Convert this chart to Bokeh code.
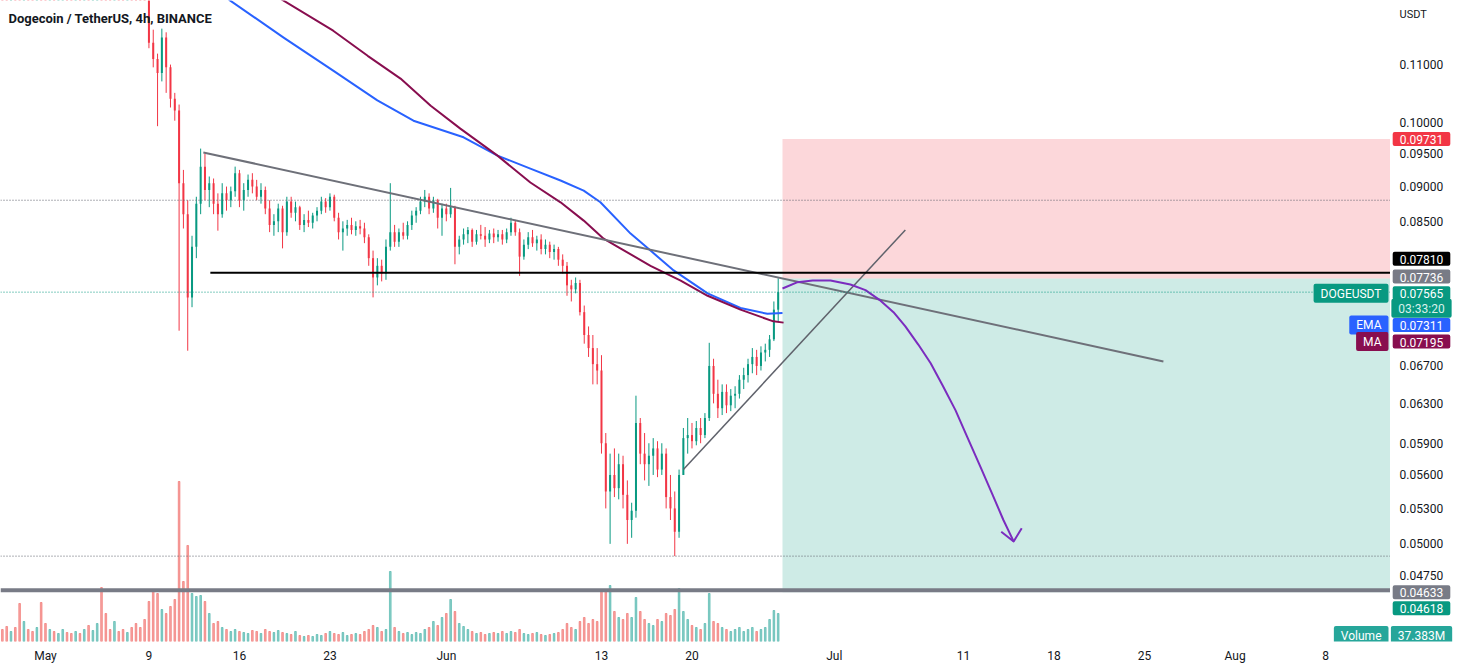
import pandas as pd
from bokeh.plotting import figure
from bokeh.layouts import row
from bokeh.models import Range1d, FixedTicker, Label, Span, ColumnDataSource, LinearScale
from bokeh.core.properties import value
from bokeh.embed import file_html
from bokeh.resources import INLINE

TITLE = "Dogecoin / TetherUS, 4h, BINANCE"
QUOTE = "USDT"
ORIGIN = pd.Timestamp("2022-05-01 00:00")
CANDLE_START = "2022-04-27 16:00"
CANDLE_STEP = "8h"
FIRST_OPEN = 0.1400

close = [
    0.1395, 0.1388, 0.1402, 0.1385, 0.1372, 0.1380, 0.1366, 0.1358, 0.1371, 0.1362,
    0.1349, 0.1356, 0.1344, 0.1351, 0.1368, 0.1355, 0.1340, 0.1347, 0.1333, 0.1338,
    0.1326, 0.1341, 0.1349, 0.1336, 0.1329, 0.1317, 0.1322, 0.1310, 0.1302, 0.1315,
    0.1296, 0.1288, 0.1280, 0.1275, 0.1140, 0.1110, 0.1085, 0.1150, 0.1095, 0.1040,
    0.1020, 0.0905, 0.0860, 0.0750, 0.0815, 0.0875, 0.0930, 0.0895, 0.0905, 0.0875,
    0.0860, 0.0890, 0.0880, 0.0893, 0.0920, 0.0880, 0.0895, 0.0910, 0.0900, 0.0885,
    0.0895, 0.0868, 0.0845, 0.0850, 0.0868, 0.0835, 0.0878, 0.0862, 0.0870, 0.0845,
    0.0852, 0.0848, 0.0858, 0.0865, 0.0878, 0.0870, 0.0885, 0.0855, 0.0835, 0.0840,
    0.0845, 0.0838, 0.0843, 0.0840, 0.0828, 0.0800, 0.0775, 0.0790, 0.0780, 0.0815,
    0.0835, 0.0822, 0.0835, 0.0830, 0.0845, 0.0858, 0.0865, 0.0878, 0.0885, 0.0868,
    0.0880, 0.0855, 0.0868, 0.0860, 0.0870, 0.0815, 0.0825, 0.0832, 0.0838, 0.0822,
    0.0832, 0.0830, 0.0825, 0.0833, 0.0828, 0.0832, 0.0825, 0.0835, 0.0848, 0.0835,
    0.0802, 0.0818, 0.0828, 0.0820, 0.0825, 0.0812, 0.0818, 0.0808, 0.0812, 0.0798,
    0.0790, 0.0765, 0.0760, 0.0768, 0.0732, 0.0705, 0.0690, 0.0672, 0.0665, 0.0590,
    0.0545, 0.0560, 0.0548, 0.0570, 0.0542, 0.0520, 0.0528, 0.0610, 0.0580, 0.0570,
    0.0578, 0.0585, 0.0565, 0.0580, 0.0540, 0.0530, 0.0510, 0.0560, 0.0595, 0.0598,
    0.0592, 0.0605, 0.0598, 0.0615, 0.0670, 0.0640, 0.0625, 0.0642, 0.0628, 0.0638,
    0.0640, 0.0655, 0.0660, 0.0672, 0.0680, 0.0670, 0.0685, 0.0688, 0.0700, 0.0735,
    0.07565,
]
high = [
    0.1418, 0.1410, 0.1420, 0.1412, 0.1398, 0.1392, 0.1388, 0.1375, 0.1385, 0.1390,
    0.1370, 0.1366, 0.1362, 0.1358, 0.1380, 0.1375, 0.1362, 0.1355, 0.1352, 0.1346,
    0.1344, 0.1350, 0.1362, 0.1372, 0.1345, 0.1335, 0.1330, 0.1328, 0.1318, 0.1322,
    0.1320, 0.1305, 0.1295, 0.1292, 0.1290, 0.1165, 0.1120, 0.1167, 0.1160, 0.1100,
    0.1050, 0.1030, 0.0925, 0.0880, 0.0830, 0.0885, 0.0958, 0.0950, 0.0915, 0.0912,
    0.0890, 0.0905, 0.0900, 0.0900, 0.0930, 0.0925, 0.0905, 0.0918, 0.0920, 0.0910,
    0.0905, 0.0900, 0.0880, 0.0860, 0.0875, 0.0872, 0.0885, 0.0885, 0.0878, 0.0872,
    0.0860, 0.0865, 0.0862, 0.0870, 0.0885, 0.0883, 0.0890, 0.0888, 0.0862, 0.0850,
    0.0852, 0.0855, 0.0850, 0.0852, 0.0848, 0.0832, 0.0810, 0.0800, 0.0798, 0.0825,
    0.0905, 0.0845, 0.0840, 0.0848, 0.0850, 0.0865, 0.0870, 0.0885, 0.0895, 0.0890,
    0.0885, 0.0882, 0.0875, 0.0875, 0.0898, 0.0872, 0.0830, 0.0840, 0.0842, 0.0840,
    0.0838, 0.0845, 0.0842, 0.0838, 0.0840, 0.0838, 0.0838, 0.0840, 0.0855, 0.0852,
    0.0840, 0.0825, 0.0835, 0.0838, 0.0830, 0.0832, 0.0825, 0.0822, 0.0818, 0.0815,
    0.0805, 0.0795, 0.0772, 0.0775, 0.0772, 0.0740, 0.0715, 0.0705, 0.0690, 0.0682,
    0.0600, 0.0580, 0.0585, 0.0580, 0.0578, 0.0555, 0.0535, 0.0638, 0.0615, 0.0600,
    0.0590, 0.0595, 0.0592, 0.0590, 0.0585, 0.0560, 0.0545, 0.0565, 0.0605, 0.0615,
    0.0610, 0.0612, 0.0615, 0.0620, 0.0696, 0.0678, 0.0655, 0.0650, 0.0650, 0.0645,
    0.0648, 0.0660, 0.0668, 0.0678, 0.0690, 0.0688, 0.0692, 0.0695, 0.0705, 0.0745,
    0.0774,
]
low = [
    0.1382, 0.1375, 0.1380, 0.1370, 0.1352, 0.1360, 0.1352, 0.1340, 0.1350, 0.1338,
    0.1335, 0.1340, 0.1332, 0.1336, 0.1345, 0.1348, 0.1330, 0.1332, 0.1325, 0.1322,
    0.1315, 0.1320, 0.1335, 0.1318, 0.1312, 0.1305, 0.1308, 0.1300, 0.1292, 0.1295,
    0.1285, 0.1272, 0.1262, 0.1250, 0.1130, 0.1095, 0.0994, 0.1070, 0.1050, 0.1025,
    0.1003, 0.0710, 0.0840, 0.0687, 0.0738, 0.0800, 0.0860, 0.0880, 0.0870, 0.0860,
    0.0837, 0.0855, 0.0865, 0.0870, 0.0885, 0.0870, 0.0865, 0.0885, 0.0890, 0.0880,
    0.0875, 0.0860, 0.0835, 0.0830, 0.0835, 0.0813, 0.0830, 0.0855, 0.0850, 0.0838,
    0.0835, 0.0842, 0.0840, 0.0850, 0.0860, 0.0862, 0.0865, 0.0850, 0.0825, 0.0810,
    0.0830, 0.0832, 0.0830, 0.0832, 0.0820, 0.0790, 0.0750, 0.0765, 0.0770, 0.0772,
    0.0810, 0.0815, 0.0815, 0.0825, 0.0825, 0.0838, 0.0848, 0.0860, 0.0870, 0.0860,
    0.0862, 0.0840, 0.0830, 0.0850, 0.0855, 0.0792, 0.0805, 0.0818, 0.0820, 0.0815,
    0.0818, 0.0825, 0.0815, 0.0820, 0.0820, 0.0822, 0.0818, 0.0820, 0.0830, 0.0830,
    0.0777, 0.0798, 0.0812, 0.0815, 0.0810, 0.0805, 0.0805, 0.0800, 0.0798, 0.0790,
    0.0780, 0.0752, 0.0745, 0.0755, 0.0728, 0.0695, 0.0680, 0.0650, 0.0650, 0.0580,
    0.0530, 0.0500, 0.0540, 0.0538, 0.0530, 0.0500, 0.0505, 0.0522, 0.0570, 0.0555,
    0.0550, 0.0560, 0.0558, 0.0560, 0.0530, 0.0520, 0.0490, 0.0505, 0.0560, 0.0580,
    0.0585, 0.0588, 0.0590, 0.0595, 0.0612, 0.0630, 0.0615, 0.0618, 0.0620, 0.0622,
    0.0625, 0.0635, 0.0645, 0.0652, 0.0662, 0.0660, 0.0665, 0.0675, 0.0680, 0.0698,
    0.0720,
]
volume_m = [
    12, 15, 10, 14, 38, 20, 12, 10, 14, 39,
    18, 12, 10, 8, 12, 9, 8, 10, 8, 12,
    16, 11, 18, 54, 28, 12, 20, 10, 12, 9,
    14, 18, 14, 22, 40, 50, 48, 32, 28, 35,
    42, 160, 60, 96, 48, 45, 46, 40, 28, 18,
    20, 14, 12, 10, 12, 10, 9, 8, 11, 10,
    8, 12, 10, 9, 11, 9, 8, 7, 10, 6,
    5, 6, 5, 7, 6, 8, 10, 8, 7, 9,
    6, 7, 8, 7, 10, 12, 16, 14, 10, 12,
    70, 14, 10, 8, 9, 7, 9, 8, 12, 14,
    20, 16, 24, 28, 42, 30, 18, 15, 12, 10,
    8, 9, 7, 8, 9, 8, 10, 8, 10, 9,
    12, 8, 7, 8, 9, 7, 6, 7, 8, 9,
    12, 18, 14, 12, 20, 24, 18, 22, 20, 52,
    50, 56, 30, 24, 22, 28, 24, 44, 30, 22,
    18, 16, 22, 20, 28, 26, 32, 53, 30, 22,
    16, 14, 12, 18, 48, 20, 18, 14, 12, 10,
    12, 14, 10, 12, 14, 10, 12, 14, 22, 31,
    28,
]

ema_time = ["2022-05-13 00:00", "2022-05-15 07:00", "2022-05-19 10:00", "2022-05-23 06:00",
            "2022-05-26 16:00", "2022-05-29 11:00", "2022-06-02 08:00", "2022-06-04 23:00",
            "2022-06-07 12:00", "2022-06-09 20:00", "2022-06-11 15:00", "2022-06-12 22:00",
            "2022-06-15 06:00", "2022-06-16 19:00", "2022-06-18 14:00", "2022-06-21 05:00",
            "2022-06-23 18:00", "2022-06-25 20:00", "2022-06-27 00:00"]
ema_value = [0.1273, 0.1222, 0.1150, 0.1089, 0.1037, 0.1003, 0.0976, 0.0947, 0.0927, 0.0909,
             0.0894, 0.0877, 0.0833, 0.0810, 0.0784, 0.0755, 0.0737, 0.0730, 0.07311]
ma_time = ["2022-05-16 20:00", "2022-05-19 10:00", "2022-05-23 06:00", "2022-05-25 22:00",
           "2022-05-28 11:00", "2022-05-30 19:00", "2022-06-02 02:00", "2022-06-04 23:00",
           "2022-06-07 12:00", "2022-06-09 20:00", "2022-06-11 15:00", "2022-06-13 04:00",
           "2022-06-14 11:00", "2022-06-16 19:00", "2022-06-19 03:00", "2022-06-21 05:00",
           "2022-06-23 18:00", "2022-06-26 07:00", "2022-06-27 02:00"]
ma_value = [0.1263, 0.1222, 0.1163, 0.1116, 0.1075, 0.1028, 0.0990, 0.0947, 0.0906, 0.0877,
            0.0851, 0.0826, 0.0813, 0.0790, 0.0771, 0.0752, 0.0735, 0.0721, 0.07195]

tick_dates = ["2022-05-01", "2022-05-09", "2022-05-16", "2022-05-23", "2022-06-01", "2022-06-13",
              "2022-06-20", "2022-07-01", "2022-07-11", "2022-07-18", "2022-07-25", "2022-08-01",
              "2022-08-08"]
tick_labels = ["May", "9", "16", "23", "Jun", "13", "20", "Jul", "11", "18", "25", "Aug", "8"]
price_ticks = [0.11, 0.10, 0.095, 0.09, 0.085, 0.067, 0.063, 0.059, 0.056, 0.053, 0.05, 0.0475]

view_start, view_end = "2022-04-27 12:30", "2022-08-13 00:30"
price_low, price_high = 0.04258, 0.12223

# drawings made on the chart
res_time = ["2022-05-13 05:00", "2022-07-26 11:00"]
res_price = [0.0952, 0.0675]
sup_time = ["2022-06-19 08:00", "2022-07-06 12:00"]
sup_price = [0.0565, 0.0838]
hline_start = "2022-05-13 18:00"
hline_price = 0.07810
base_price = 0.04633
dotted_levels = [0.0880, 0.0490]
pos_start, pos_end = "2022-06-27 00:00", "2022-08-25 00:00"
entry_price, stop_price, target_price = 0.07736, 0.09731, 0.04618
arrow_time = ["2022-06-27 00:00", "2022-06-28 04:00", "2022-06-29 08:00", "2022-06-30 17:00",
              "2022-07-02 06:00", "2022-07-03 10:00", "2022-07-04 14:00", "2022-07-05 14:00",
              "2022-07-06 12:00", "2022-07-07 12:00", "2022-07-08 11:00", "2022-07-09 09:00",
              "2022-07-10 09:00", "2022-07-11 07:00", "2022-07-12 07:00", "2022-07-13 06:00",
              "2022-07-14 02:00", "2022-07-14 21:00"]
arrow_price = [0.0761, 0.0769, 0.0771, 0.0771, 0.0766, 0.0759, 0.0746, 0.0732, 0.0715,
               0.0694, 0.0673, 0.0649, 0.0623, 0.0596, 0.0568, 0.0542, 0.0520, 0.0502]
head_time = ["2022-07-13 22:00", "2022-07-14 21:00", "2022-07-15 12:00"]
head_price = [0.0510, 0.0502, 0.0513]
last_price = 0.07565
countdown = "03:33:20"
ema_last, ma_last = 0.07311, 0.07195
last_volume = "37.383M"

UP, DOWN = "#089981", "#f23645"
FONT = "Roboto"


def day(t):
    return (pd.Timestamp(t) - ORIGIN) / pd.Timedelta(days=1)


times = pd.date_range(CANDLE_START, periods=len(close), freq=CANDLE_STEP)
xs = [day(t) for t in times]
opens = [FIRST_OPEN] + close[:-1]
is_up = [c >= o for o, c in zip(opens, close)]
src = ColumnDataSource(dict(
    x=xs, h=high, l=low,
    top=[max(o, c) for o, c in zip(opens, close)],
    bottom=[min(o, c) for o, c in zip(opens, close)],
    color=[UP if u else DOWN for u in is_up],
    vcolor=["#26a69a" if u else "#ef5350" for u in is_up],
    vol=volume_m,
))

y_range = Range1d(price_low, price_high)

p = figure(width=1390, height=668,
           x_range=Range1d(day(view_start), day(view_end)), y_range=y_range,
           y_axis_type="log", y_axis_location=None,
           output_backend="svg", toolbar_location=None,
           min_border_left=0, min_border_top=0, min_border_right=0, min_border_bottom=27,
           background_fill_color="white", border_fill_color="white")
p.outline_line_color = None
p.grid.visible = False

# volume overlay on its own linear scale
p.extra_y_ranges = {"vol": Range1d(0, 641)}
p.extra_y_scales = {"vol": LinearScale()}
p.vbar(x="x", top="vol", bottom=0, width=0.13, color="vcolor", alpha=0.5,
       y_range_name="vol", source=src)

# position boxes
p.quad(left=[day(pos_start)], right=[day(pos_end)], bottom=[entry_price], top=[stop_price],
       fill_color=DOWN, fill_alpha=0.2, line_color=None)
p.quad(left=[day(pos_start)], right=[day(pos_end)], bottom=[target_price], top=[entry_price],
       fill_color=UP, fill_alpha=0.2, line_color=None)

for lvl in dotted_levels:
    p.add_layout(Span(location=lvl, dimension="width", line_color="#5d606b",
                      line_width=1, line_dash="1 2"))
p.add_layout(Span(location=last_price, dimension="width", line_color=UP,
                  line_width=1, line_dash="1 2"))
p.add_layout(Span(location=base_price, dimension="width", line_color="#787b86", line_width=4))

# candles
p.segment(x0="x", y0="l", x1="x", y1="h", line_color="color", line_width=1, source=src)
p.vbar(x="x", top="top", bottom="bottom", width=0.155, fill_color="color",
       line_color=None, source=src)

# moving averages
p.line([day(t) for t in ema_time], ema_value, line_color="#2962ff", line_width=2,
       line_join="round")
p.line([day(t) for t in ma_time], ma_value, line_color="#880e4f", line_width=2,
       line_join="round")

# drawings
p.line([day(t) for t in res_time], res_price, line_color="#6e7079", line_width=2)
p.line([day(t) for t in sup_time], sup_price, line_color="#5f626b", line_width=1.5)
p.line([day(hline_start), day(pos_end)], [hline_price, hline_price], line_color="#000000",
       line_width=2)
p.line([day(t) for t in arrow_time], arrow_price, line_color="#7b2cbf", line_width=2,
       line_join="round")
p.line([day(t) for t in head_time], head_price, line_color="#7b2cbf", line_width=2,
       line_join="round")

# time axis
xax = p.xaxis[0]
tick_days = [int(round(day(t))) for t in tick_dates]
xax.ticker = FixedTicker(ticks=tick_days)
xax.major_label_overrides = {d: lab for d, lab in zip(tick_days, tick_labels)}
xax.axis_line_color = None
xax.major_tick_line_color = None
xax.minor_tick_line_color = None
xax.major_label_text_font = FONT
xax.major_label_text_font_size = "12px"
xax.major_label_text_color = "#131722"
xax.major_label_standoff = 1


def tag(fig, text, x, y, bg, align="center", y_off=0, y_units="data", x_units="data",
        fg="white"):
    fig.add_layout(Label(x=x, y=y, x_units=x_units, y_units=y_units, text=text,
                         text_align=align, text_baseline="middle", text_font=FONT,
                         text_font_size="12px", text_color=fg, y_offset=y_off,
                         background_fill_color=bg, background_fill_alpha=1.0,
                         padding=dict(left=7, right=7, top=3, bottom=2), border_radius=2))


# tags drawn inside the chart pane (left of the price scale)
TAG_RIGHT = 1388
tag(p, "DOGEUSDT", TAG_RIGHT, last_price, UP, align="right", y_off=-1, x_units="screen")
tag(p, "EMA", TAG_RIGHT, ema_last, "#2962ff", align="right", y_off=-12, x_units="screen")
tag(p, "MA", TAG_RIGHT, ma_last, "#880e4f", align="right", y_off=-19, x_units="screen")
tag(p, "Volume", TAG_RIGHT, 6, "#26a69a", align="right", y_units="screen", x_units="screen")

p.add_layout(Label(x=8, y=623, x_units="screen", y_units="screen", text=TITLE,
                   text_font=FONT, text_font_size="13px", text_font_style="bold",
                   text_color="#131722", text_baseline="middle"))

# price scale pane, sharing the price range
s = figure(width=68, height=668, x_range=Range1d(0, 68), y_range=y_range,
           y_axis_type="log", x_axis_location=None, y_axis_location=None,
           output_backend="svg", toolbar_location=None,
           min_border_left=0, min_border_top=0, min_border_right=0, min_border_bottom=27,
           background_fill_color="white", border_fill_color="white")
s.outline_line_color = None
s.grid.visible = False
s.text(x=[9] * len(price_ticks), y=price_ticks, text=["%.5f" % t for t in price_ticks],
       text_font=value(FONT), text_font_size=value("12px"), text_color="#131722",
       text_baseline="middle")
s.add_layout(Label(x=9, y=627, x_units="screen", y_units="screen", text=QUOTE,
                   text_font=FONT, text_font_size="11px", text_color="#131722",
                   text_baseline="middle"))

CX = 31
tag(s, "%.5f" % stop_price, CX, stop_price, DOWN)
tag(s, "%.5f" % hline_price, CX, hline_price, "#000000", y_off=14)
tag(s, "%.5f" % entry_price, CX, entry_price, "#787b86", y_off=2)
tag(s, "%.5f" % last_price, CX, last_price, UP, y_off=-1)
tag(s, countdown, CX, last_price, UP, y_off=-16, fg="#d8f1ec")
tag(s, "%.5f" % ema_last, CX, ema_last, "#2962ff", y_off=-12)
tag(s, "%.5f" % ma_last, CX, ma_last, "#880e4f", y_off=-19)
tag(s, "%.5f" % base_price, CX, base_price, "#787b86", y_off=-2)
tag(s, "%.5f" % target_price, CX, target_price, UP, y_off=-16)
tag(s, last_volume, CX, 6, "#26a69a", y_units="screen")

layout = row(p, s, spacing=0)
open("out.html", "w").write(file_html(layout, INLINE))
